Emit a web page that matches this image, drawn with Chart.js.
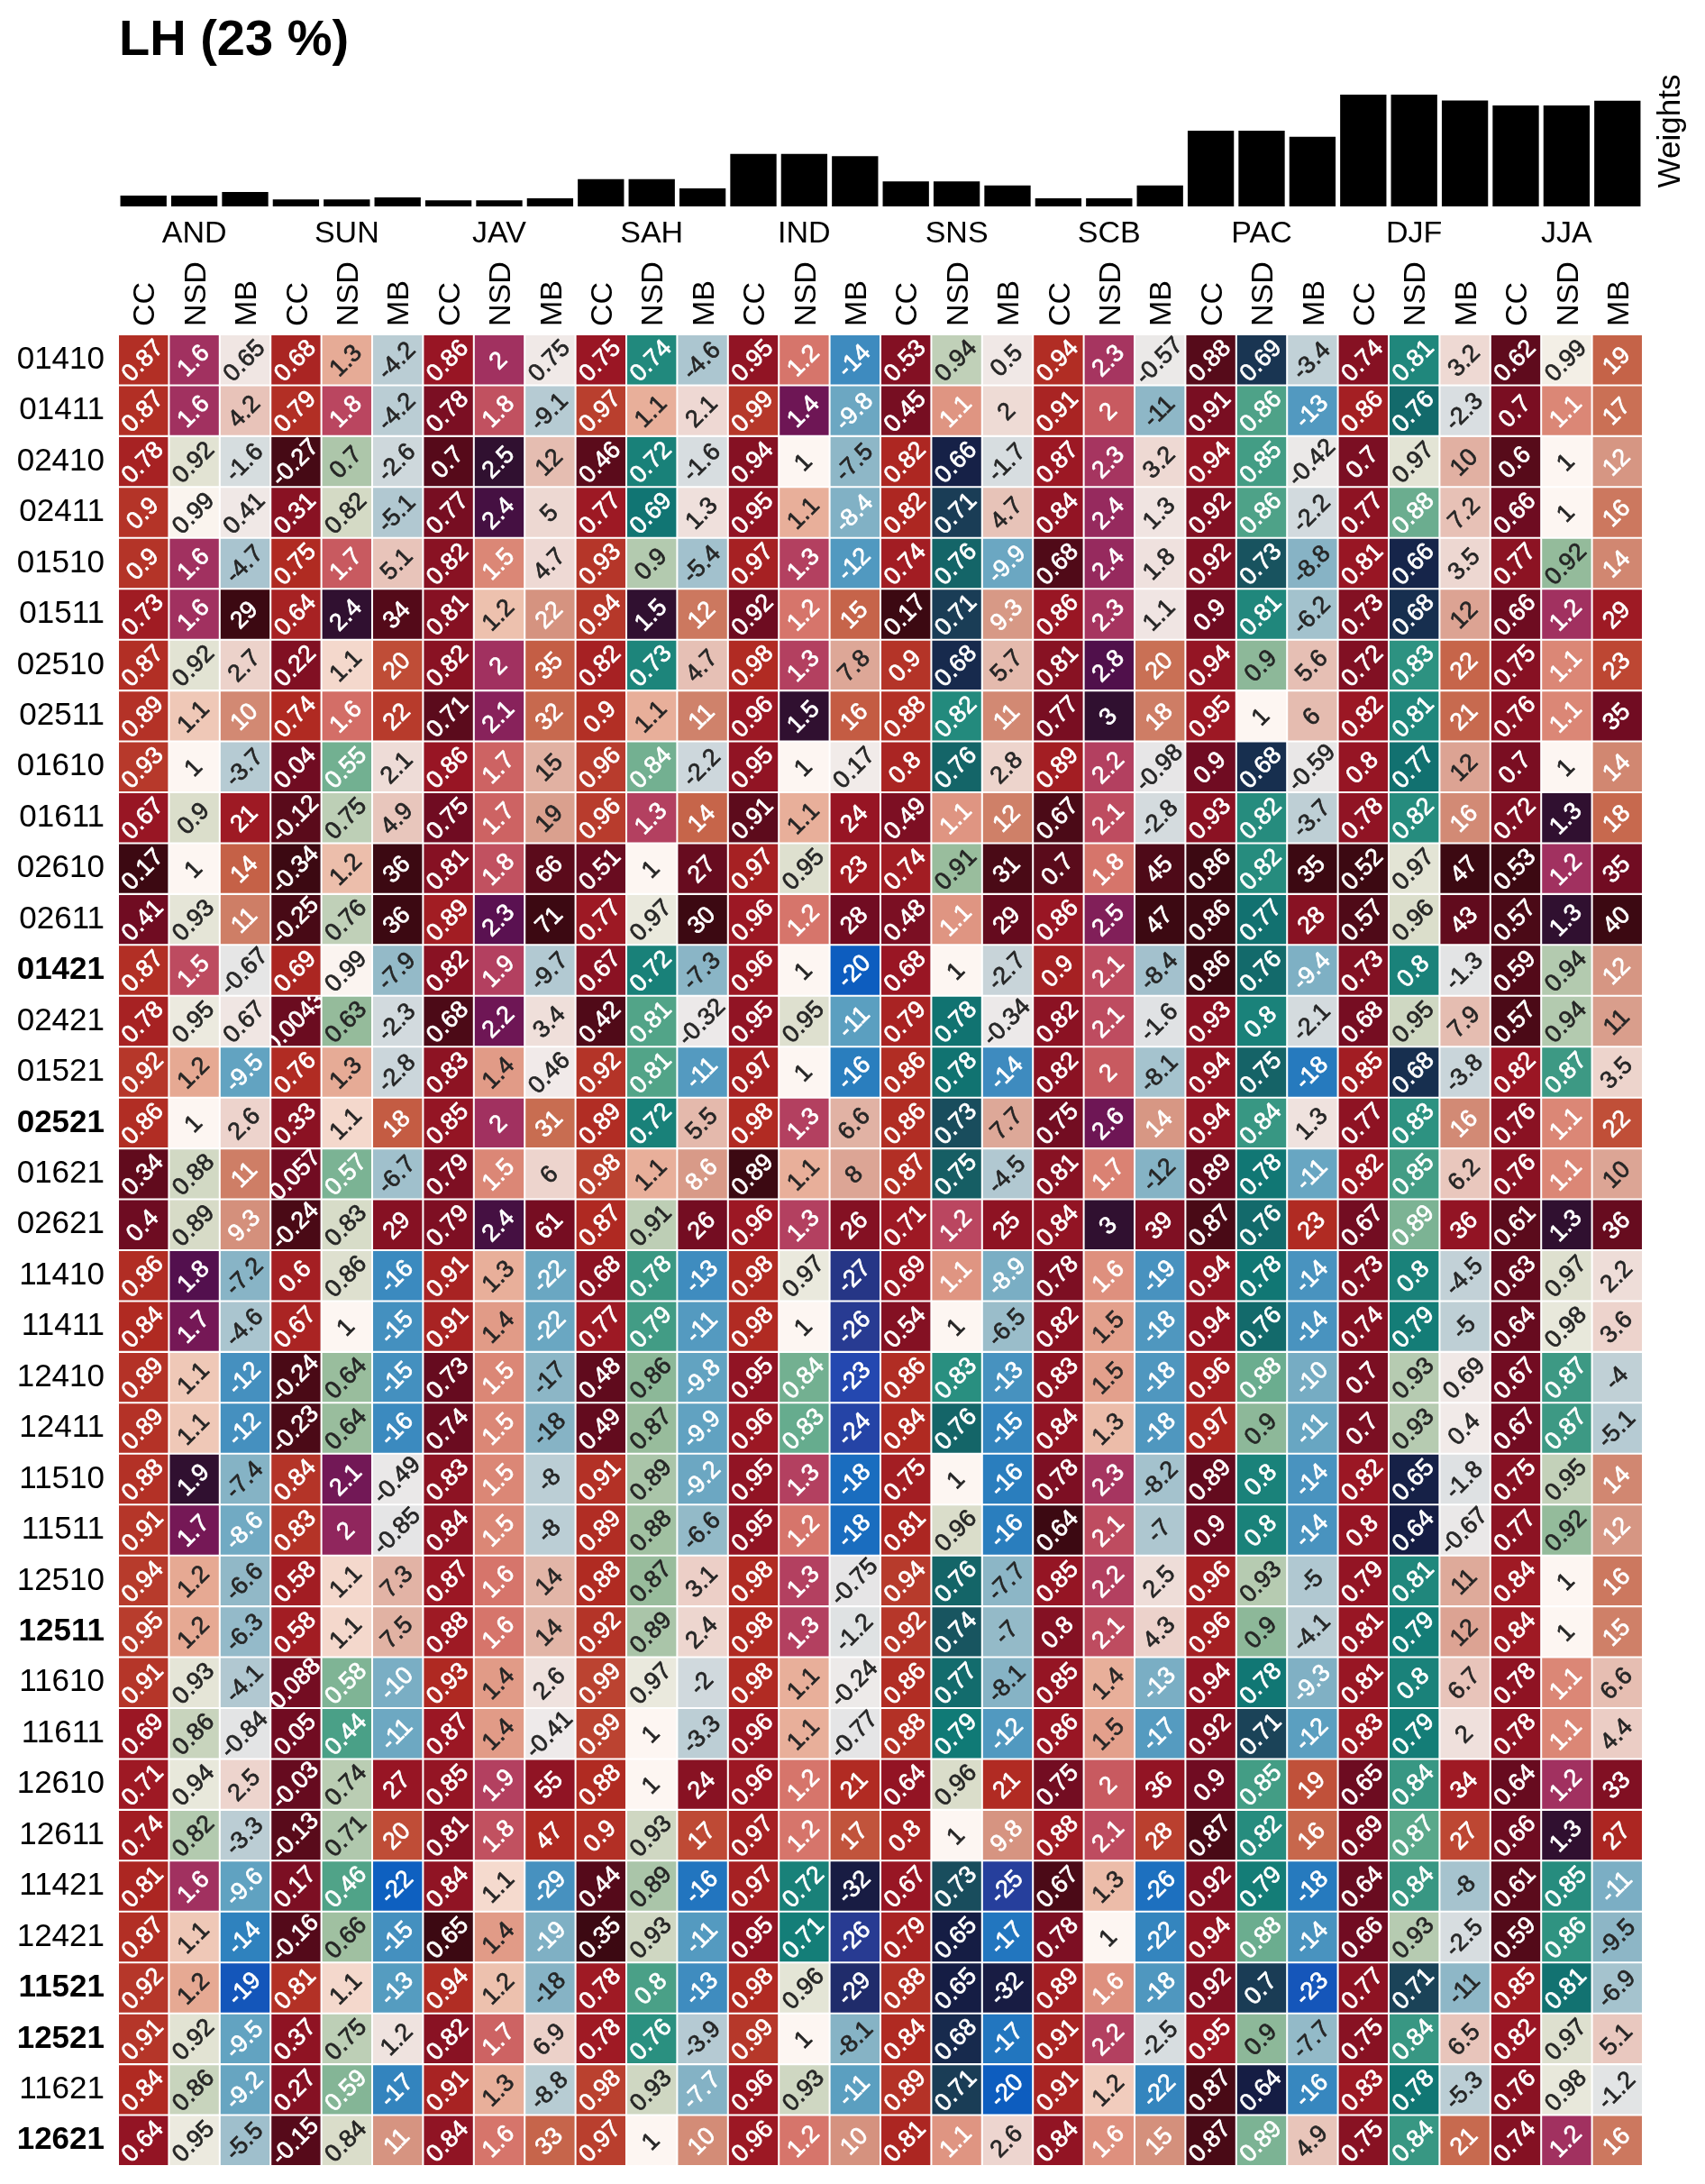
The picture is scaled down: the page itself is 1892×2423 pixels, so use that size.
<!DOCTYPE html>
<html>
<head>
<meta charset="utf-8">
<script src="https://cdn.jsdelivr.net/npm/chart.js@4.4.1/dist/chart.umd.min.js"></script>
<style>
  html, body { margin: 0; padding: 0; background: #fff; }
  #wrap { position: relative; width: 1892px; height: 2423px; }
  canvas { position: absolute; left: 0; top: 0; }
</style>
</head>
<body>
<div id="wrap">
  <canvas id="weights" width="1892" height="300"></canvas>
  <canvas id="heat" width="1892" height="2423"></canvas>
</div>
<script>
const FONT = '"Liberation Sans", Arial, Helvetica, sans-serif';

const regions = ['AND', 'SUN', 'JAV', 'SAH', 'IND', 'SNS', 'SCB', 'PAC', 'DJF', 'JJA'];
const metrics = ['CC', 'NSD', 'MB'];

const rowLabels = ['01410', '01411', '02410', '02411', '01510', '01511', '02510', '02511', '01610', '01611',
  '02610', '02611', '01421', '02421', '01521', '02521', '01621', '02621', '11410', '11411', '12410', '12411',
  '11510', '11511', '12510', '12511', '11610', '11611', '12610', '12611', '11421', '12421', '11521', '12521',
  '11621', '12621'];
const boldRows = ['01421', '02521', '12511', '11521', '12521', '12621'];

// bar heights of the weights panel, one per column (region x metric)
const weights = [1.2, 1.2, 1.6, 0.77, 0.77, 1.0, 0.67, 0.67, 0.9, 3.03, 3.03, 2.0, 5.8, 5.8, 5.57,
  2.77, 2.77, 2.33, 0.9, 0.9, 2.33, 8.37, 8.37, 7.7, 12.37, 12.37, 11.73, 11.17, 11.17, 11.7];

// one row per label, one value per region
const CC = [
  [.87, .68, .86, .75, .95, .53, .94, .88, .74, .62],
  [.87, .79, .78, .97, .99, .45, .91, .91, .86, .7],
  [.78, -.27, .7, .46, .94, .82, .87, .94, .7, .6],
  [.9, .31, .77, .77, .95, .82, .84, .92, .77, .66],
  [.9, .75, .82, .93, .97, .74, .68, .92, .81, .77],
  [.73, .64, .81, .94, .92, .17, .86, .9, .73, .66],
  [.87, .22, .82, .82, .98, .9, .81, .94, .72, .75],
  [.89, .74, .71, .9, .96, .88, .77, .95, .82, .76],
  [.93, .04, .86, .96, .95, .8, .89, .9, .8, .7],
  [.67, -.12, .75, .96, .91, .49, .67, .93, .78, .72],
  [.17, -.34, .81, .51, .97, .74, .7, .86, .52, .53],
  [.41, -.25, .89, .77, .96, .48, .86, .86, .57, .57],
  [.87, .69, .82, .67, .96, .68, .9, .86, .73, .59],
  [.78, .0043, .68, .42, .95, .79, .82, .93, .68, .57],
  [.92, .76, .83, .92, .97, .86, .82, .94, .85, .82],
  [.86, .33, .85, .89, .98, .86, .75, .94, .77, .76],
  [.34, .057, .79, .98, .89, .87, .81, .89, .82, .76],
  [.4, -.24, .79, .87, .96, .71, .84, .87, .67, .61],
  [.86, .6, .91, .68, .98, .69, .78, .94, .73, .63],
  [.84, .67, .91, .77, .98, .54, .82, .94, .74, .64],
  [.89, -.24, .73, .48, .95, .86, .83, .96, .7, .67],
  [.89, -.23, .74, .49, .96, .84, .84, .97, .7, .67],
  [.88, .84, .83, .91, .95, .75, .78, .89, .82, .75],
  [.91, .83, .84, .89, .95, .81, .64, .9, .8, .77],
  [.94, .58, .87, .88, .98, .94, .85, .96, .79, .84],
  [.95, .58, .88, .92, .98, .92, .8, .96, .81, .84],
  [.91, .088, .93, .99, .98, .86, .85, .94, .81, .78],
  [.69, .05, .87, .99, .96, .88, .86, .92, .83, .78],
  [.71, -.03, .85, .88, .96, .64, .75, .9, .65, .64],
  [.74, -.13, .81, .9, .97, .8, .88, .87, .69, .66],
  [.81, .17, .84, .44, .97, .67, .67, .92, .64, .61],
  [.87, -.16, .65, .35, .95, .79, .78, .94, .66, .59],
  [.92, .81, .94, .78, .98, .88, .89, .92, .77, .85],
  [.91, .37, .82, .78, .99, .84, .91, .95, .75, .82],
  [.84, .27, .91, .98, .96, .89, .91, .87, .83, .76],
  [.64, -.15, .84, .97, .96, .81, .84, .87, .75, .74]
];

const NSD = [
  [1.6, 1.3, 2, .74, 1.2, .94, 2.3, .69, .81, .99],
  [1.6, 1.8, 1.8, 1.1, 1.4, 1.1, 2, .86, .76, 1.1],
  [.92, .7, 2.5, .72, 1, .66, 2.3, .85, .97, 1],
  [.99, .82, 2.4, .69, 1.1, .71, 2.4, .86, .88, 1],
  [1.6, 1.7, 1.5, .9, 1.3, .76, 2.4, .73, .66, .92],
  [1.6, 2.4, 1.2, 1.5, 1.2, .71, 2.3, .81, .68, 1.2],
  [.92, 1.1, 2, .73, 1.3, .68, 2.8, .9, .83, 1.1],
  [1.1, 1.6, 2.1, 1.1, 1.5, .82, 3, 1, .81, 1.1],
  [1, .55, 1.7, .84, 1, .76, 2.2, .68, .77, 1],
  [.9, .75, 1.7, 1.3, 1.1, 1.1, 2.1, .82, .82, 1.3],
  [1, 1.2, 1.8, 1, .95, .91, 1.8, .82, .97, 1.2],
  [.93, .76, 2.3, .97, 1.2, 1.1, 2.5, .77, .96, 1.3],
  [1.5, .99, 1.9, .72, 1, 1, 2.1, .76, .8, .94],
  [.95, .63, 2.2, .81, .95, .78, 2.1, .8, .95, .94],
  [1.2, 1.3, 1.4, .81, 1, .78, 2, .75, .68, .87],
  [1, 1.1, 2, .72, 1.3, .73, 2.6, .84, .83, 1.1],
  [.88, .57, 1.5, 1.1, 1.1, .75, 1.7, .78, .85, 1.1],
  [.89, .83, 2.4, .91, 1.3, 1.2, 3, .76, .89, 1.3],
  [1.8, .86, 1.3, .78, .97, 1.1, 1.6, .78, .8, .97],
  [1.7, 1, 1.4, .79, 1, 1, 1.5, .76, .79, .98],
  [1.1, .64, 1.5, .86, .84, .83, 1.5, .88, .93, .87],
  [1.1, .64, 1.5, .87, .83, .76, 1.3, .9, .93, .87],
  [1.9, 2.1, 1.5, .89, 1.3, 1, 2.3, .8, .65, .95],
  [1.7, 2, 1.5, .88, 1.2, .96, 2.1, .8, .64, .92],
  [1.2, 1.1, 1.6, .87, 1.3, .76, 2.2, .93, .81, 1],
  [1.2, 1.1, 1.6, .89, 1.3, .74, 2.1, .9, .79, 1],
  [.93, .58, 1.4, .97, 1.1, .77, 1.4, .78, .8, 1.1],
  [.86, .44, 1.4, 1, 1.1, .79, 1.5, .71, .79, 1.1],
  [.94, .74, 1.9, 1, 1.2, .96, 2, .85, .84, 1.2],
  [.82, .71, 1.8, .93, 1.2, 1, 2.1, .82, .87, 1.3],
  [1.6, .46, 1.1, .89, .72, .73, 1.3, .79, .84, .85],
  [1.1, .66, 1.4, .93, .71, .65, 1, .88, .93, .86],
  [1.2, 1.1, 1.2, .8, .96, .65, 1.6, .7, .71, .81],
  [.92, .75, 1.7, .76, 1, .68, 2.2, .9, .84, .97],
  [.86, .59, 1.3, .93, .93, .71, 1.2, .64, .78, .98],
  [.95, .84, 1.6, 1, 1.2, 1.1, 1.6, .89, .84, 1.2]
];

const MB = [
  [.65, -4.2, .75, -4.6, -14, .5, -.57, -3.4, 3.2, 19],
  [4.2, -4.2, -9.1, 2.1, -9.8, 2, -11, -13, -2.3, 17],
  [-1.6, -2.6, 12, -1.6, -7.5, -1.7, 3.2, -.42, 10, 12],
  [.41, -5.1, 5, 1.3, -8.4, 4.7, 1.3, -2.2, 7.2, 16],
  [-4.7, 5.1, 4.7, -5.4, -12, -9.9, 1.8, -8.8, 3.5, 14],
  [29, 34, 22, 12, 15, 9.3, 1.1, -6.2, 12, 29],
  [2.7, 20, 35, 4.7, 7.8, 5.7, 20, 5.6, 22, 23],
  [10, 22, 32, 11, 16, 11, 18, 6, 21, 35],
  [-3.7, 2.1, 15, -2.2, .17, 2.8, -.98, -.59, 12, 14],
  [21, 4.9, 19, 14, 24, 12, -2.8, -3.7, 16, 18],
  [14, 36, 66, 27, 23, 31, 45, 35, 47, 35],
  [11, 36, 71, 30, 28, 29, 47, 28, 43, 40],
  [-.67, -7.9, -9.7, -7.3, -20, -2.7, -8.4, -9.4, -1.3, 12],
  [.67, -2.3, 3.4, -.32, -11, -.34, -1.6, -2.1, 7.9, 11],
  [-9.5, -2.8, .46, -11, -16, -14, -8.1, -18, -3.8, 3.5],
  [2.6, 18, 31, 5.5, 6.6, 7.7, 14, 1.3, 16, 22],
  [11, -6.7, 6, 8.6, 8, -4.5, -12, -11, 6.2, 10],
  [9.3, 29, 61, 26, 26, 25, 39, 23, 36, 36],
  [-7.2, -16, -22, -13, -27, -8.9, -19, -14, -4.5, 2.2],
  [-4.6, -15, -22, -11, -26, -6.5, -18, -14, -5, 3.6],
  [-12, -15, -17, -9.8, -23, -13, -18, -10, .69, -4],
  [-12, -16, -18, -9.9, -24, -15, -18, -11, .4, -5.1],
  [-7.4, -.49, -8, -9.2, -18, -16, -8.2, -14, -1.8, 14],
  [-8.6, -.85, -8, -6.6, -18, -16, -7, -14, -.67, 12],
  [-6.6, 7.3, 14, 3.1, -.75, -7.7, 2.5, -5, 11, 16],
  [-6.3, 7.5, 14, 2.4, -1.2, -7, 4.3, -4.1, 12, 15],
  [-4.1, -10, 2.6, -2, -.24, -8.1, -13, -9.3, 6.7, 6.6],
  [-.84, -11, -.41, -3.3, -.77, -12, -17, -12, 2, 4.4],
  [2.5, 27, 55, 24, 21, 21, 36, 19, 34, 33],
  [-3.3, 20, 47, 17, 17, 9.8, 28, 16, 27, 27],
  [-9.6, -22, -29, -16, -32, -25, -26, -18, -8, -11],
  [-14, -15, -19, -11, -26, -17, -22, -14, -2.5, -9.5],
  [-19, -13, -18, -13, -29, -32, -18, -23, -11, -6.9],
  [-9.5, 1.2, 6.9, -3.9, -8.1, -17, -2.5, -7.7, 6.5, 5.1],
  [-9.2, -17, -8.8, -7.7, -11, -20, -22, -16, -5.3, -1.2],
  [-5.5, 11, 33, 10, 10, 2.6, 15, 4.9, 21, 16]
];

// colormaps (approximations of cmocean balance / curl)
const balance = [[0, '#181c43'], [0.09, '#283a90'], [0.14, '#2448b0'], [0.19, '#0c5ec0'], [0.25, '#2a7ebe'],
  [0.33, '#5ca0c0'], [0.38, '#8cb6c6'], [0.45, '#c0d0d6'], [0.5, '#f1eceb'], [0.55, '#ecd0c8'],
  [0.6, '#e2b4a6'], [0.66, '#d4907c'], [0.72, '#c86c50'], [0.78, '#bf4c36'], [0.83, '#b02a22'],
  [0.87, '#9a1624'], [0.94, '#700c22'], [1, '#3c0912']];
const curl = [[0, '#151d44'], [0.05, '#172c4e'], [0.1, '#1b4459'], [0.15, '#156266'], [0.2, '#107a76'],
  [0.26, '#2a9080'], [0.32, '#5aa88a'], [0.37, '#98bc9c'], [0.44, '#d8dcc8'], [0.5, '#fdf6f2'],
  [0.56, '#eec4b2'], [0.61, '#e6aa94'], [0.66, '#dc8a78'], [0.71, '#d47068'], [0.75, '#c85a60'],
  [0.79, '#b84460'], [0.84, '#9e2e60'], [0.89, '#741856'], [0.94, '#561050'], [1, '#301030']];

const series = { CC: CC, NSD: NSD, MB: MB };
const columns = [];
regions.forEach(r => metrics.forEach(m => columns.push(r + ' ' + m)));

function value(row, col) {
  return series[metrics[col % 3]][row][Math.floor(col / 3)];
}

function hexToRgb(h) {
  return [parseInt(h.slice(1, 3), 16), parseInt(h.slice(3, 5), 16), parseInt(h.slice(5, 7), 16)];
}

function sample(stops, t) {
  t = Math.max(0, Math.min(1, t));
  for (let i = 1; i < stops.length; i++) {
    if (t <= stops[i][0]) {
      const a = hexToRgb(stops[i - 1][1]), b = hexToRgb(stops[i][1]);
      const f = (t - stops[i - 1][0]) / (stops[i][0] - stops[i - 1][0]);
      return a.map((v, k) => Math.round(v + (b[k] - v) * f));
    }
  }
  return hexToRgb(stops[stops.length - 1][1]);
}

function luminance(rgb) {
  const l = rgb.map(v => {
    v /= 255;
    return v <= 0.03928 ? v / 12.92 : Math.pow((v + 0.055) / 1.055, 2.4);
  });
  return 0.2126 * l[0] + 0.7152 * l[1] + 0.0722 * l[2];
}

function fmt(v) {
  return String(Number(v.toPrecision(2)));
}

// every column gets its own colour scaling
const cellColors = rowLabels.map(() => []);
const textColors = rowLabels.map(() => []);
columns.forEach((name, c) => {
  const kind = metrics[c % 3];
  const vals = rowLabels.map((_, r) => value(r, c));
  let toT;
  if (kind === 'CC') {
    const lo = Math.min(...vals);
    toT = v => 1 - 0.21 * (v - lo) / (1 - lo);
  } else if (kind === 'NSD') {
    const d = Math.max(...vals.map(v => Math.abs(v - 1)));
    toT = v => 0.5 + (v - 1) / (2 * d);
  } else {
    const d = Math.max(...vals.map(v => Math.abs(v)));
    toT = v => 0.5 + v / (2 * d);
  }
  const cmap = kind === 'NSD' ? curl : balance;
  vals.forEach((v, r) => {
    const rgb = sample(cmap, toT(v));
    cellColors[r][c] = 'rgb(' + rgb.join(',') + ')';
    textColors[r][c] = luminance(rgb) > 0.408 ? '#262626' : '#ffffff';
  });
});

// ---------- weights panel ----------
const weightLabels = {
  id: 'weightLabels',
  afterDraw(chart) {
    const ctx = chart.ctx;
    const x = chart.scales.x;
    ctx.save();
    ctx.fillStyle = '#000';
    ctx.textBaseline = 'alphabetic';

    ctx.font = 'bold 56px ' + FONT;
    ctx.textAlign = 'left';
    ctx.fillText('LH (23 %)', 132, 61);

    ctx.font = '34px ' + FONT;
    ctx.textAlign = 'center';
    regions.forEach((r, g) => {
      ctx.fillText(r, x.getPixelForValue(g * 3 + 1), 257 + 0.358 * 34);
    });

    ctx.font = '35px ' + FONT;
    ctx.translate(1864, 145.5);
    ctx.rotate(-Math.PI / 2);
    ctx.fillText('Weights', 0, 0);
    ctx.restore();
  }
};

new Chart(document.getElementById('weights'), {
  type: 'bar',
  data: {
    labels: columns,
    datasets: [{
      data: weights,
      backgroundColor: '#000000',
      borderWidth: 0,
      barPercentage: 0.91,
      categoryPercentage: 1
    }]
  },
  options: {
    responsive: false,
    animation: false,
    events: [],
    layout: { padding: { left: 131, right: 69, top: 105, bottom: 71 } },
    scales: {
      x: { display: false },
      y: { display: false, min: 0, max: 12.37 }
    },
    plugins: { legend: { display: false }, tooltip: { enabled: false } }
  },
  plugins: [weightLabels]
});

// ---------- heatmap ----------
const columnLabels = {
  id: 'columnLabels',
  afterDraw(chart) {
    const ctx = chart.ctx;
    const x = chart.scales.x;
    const top = chart.chartArea.top;
    ctx.save();
    ctx.fillStyle = '#000';
    ctx.font = '34px ' + FONT;
    ctx.textAlign = 'left';
    ctx.textBaseline = 'alphabetic';
    columns.forEach((name, i) => {
      ctx.save();
      ctx.translate(x.getPixelForValue(i), top - 9);
      ctx.rotate(-Math.PI / 2);
      ctx.fillText(metrics[i % 3], 0, 0.358 * 34);
      ctx.restore();
    });
    ctx.restore();
  }
};

const ANNOT = 27;
const cellText = {
  id: 'cellText',
  afterDatasetsDraw(chart) {
    const ctx = chart.ctx;
    ctx.save();
    ctx.font = ANNOT + 'px ' + FONT;
    ctx.textAlign = 'center';
    ctx.textBaseline = 'alphabetic';
    ctx.lineWidth = 0.7;
    ctx.lineJoin = 'round';
    chart.data.datasets.forEach((ds, r) => {
      chart.getDatasetMeta(r).data.forEach((el, c) => {
        const top = Math.min(el.y, el.base);
        const h = Math.abs(el.base - el.y);
        const left = el.x - el.width / 2;
        const label = fmt(value(r, c));
        ctx.save();
        ctx.beginPath();
        ctx.rect(left, top, el.width, h);
        ctx.clip();
        ctx.translate(el.x - 2, top + h / 2);
        ctx.rotate(-Math.PI / 4);
        ctx.fillStyle = textColors[r][c];
        ctx.strokeStyle = textColors[r][c];
        ctx.fillText(label, 0, 0.358 * ANNOT);
        ctx.strokeText(label, 0, 0.358 * ANNOT);
        ctx.restore();
      });
    });
    ctx.restore();
  }
};

const heatDatasets = rowLabels.map((lab, r) => ({
  label: lab,
  data: columns.map(() => [r, r + 1]),
  backgroundColor: cellColors[r],
  borderColor: '#ffffff',
  borderWidth: 1.35,
  borderSkipped: false,
  barPercentage: 1,
  categoryPercentage: 1,
  grouped: false
}));

new Chart(document.getElementById('heat'), {
  type: 'bar',
  data: { labels: columns, datasets: heatDatasets },
  options: {
    responsive: false,
    animation: false,
    events: [],
    layout: { padding: { left: 0, right: 69, top: 371, bottom: 20 } },
    scales: {
      x: { display: false },
      y: {
        type: 'linear',
        min: 0,
        max: rowLabels.length,
        reverse: true,
        afterBuildTicks: s => { s.ticks = rowLabels.map((_, i) => ({ value: i + 0.5 })); },
        afterFit: s => { s.width = 131; s.paddingTop = 0; s.paddingBottom = 0; },
        grid: { display: false, drawTicks: false },
        border: { display: false },
        ticks: {
          autoSkip: false,
          padding: 15,
          color: '#000',
          callback: (v, i) => rowLabels[i],
          font: ctx => ({
            family: FONT,
            size: 35,
            weight: boldRows.includes(rowLabels[ctx.index]) ? 'bold' : 'normal'
          })
        }
      }
    },
    plugins: { legend: { display: false }, tooltip: { enabled: false } }
  },
  plugins: [cellText, columnLabels]
});
</script>
</body>
</html>
